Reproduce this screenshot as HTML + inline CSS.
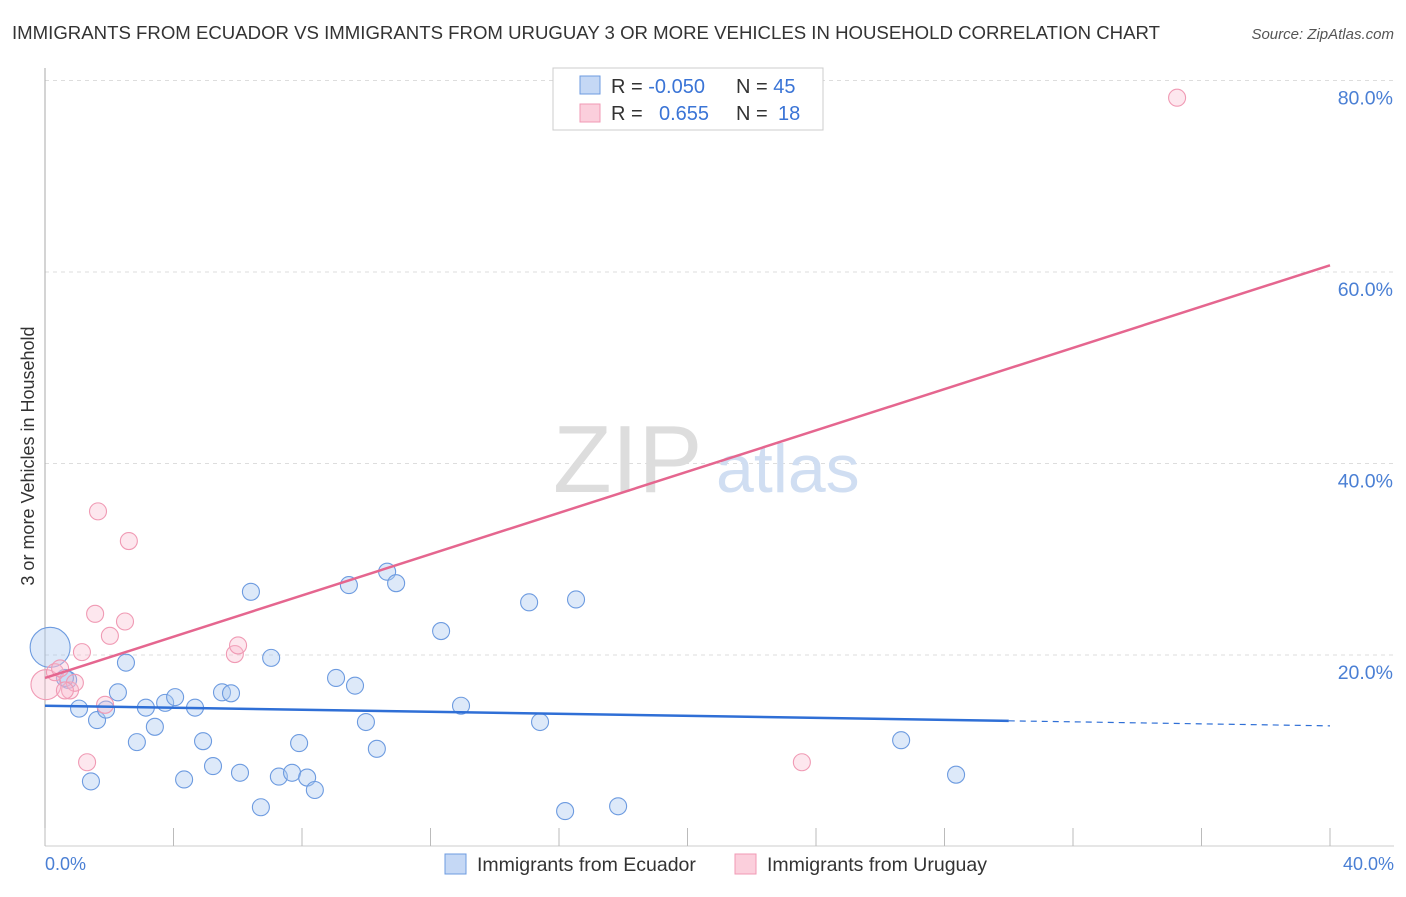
<!DOCTYPE html>
<html><head><meta charset="utf-8"><style>
body{margin:0;background:#fff;font-family:"Liberation Sans",sans-serif}
svg text{font-family:"Liberation Sans",sans-serif}
</style></head><body>
<svg width="1406" height="892">
<text x="12" y="39" font-size="18" fill="#333" textLength="1148" lengthAdjust="spacingAndGlyphs">IMMIGRANTS FROM ECUADOR VS IMMIGRANTS FROM URUGUAY 3 OR MORE VEHICLES IN HOUSEHOLD CORRELATION CHART</text>
<text x="1394" y="39" font-size="15" fill="#555" font-style="italic" text-anchor="end">Source: ZipAtlas.com</text>
<g id="grid"></g>
<text x="553" y="492" font-size="96" fill="#ddd" font-family="Liberation Serif">ZIP</text>
<text x="716" y="492" font-size="68" fill="#d0def2">atlas</text>
<line x1="45" y1="68" x2="45" y2="846" stroke="#aaa"/>
<line x1="45" y1="846" x2="1394" y2="846" stroke="#ccc"/>
<g id="xt"></g>
<text x="34" y="456" font-size="18" fill="#333" text-anchor="middle" transform="rotate(-90 34 456)">3 or more Vehicles in Household</text>
<text x="45" y="870" font-size="18" fill="#4a7fd4">0.0%</text>
<text x="1394" y="870" font-size="18" fill="#4a7fd4" text-anchor="end">40.0%</text>
<g id="pts"></g>
<g id="lines"></g>
<g>
<rect x="553" y="68" width="270" height="62" fill="#fff" stroke="#ccc"/>
<rect x="580" y="76" width="20" height="18" fill="#c5d8f5" stroke="#6d9be0"/>
<rect x="580" y="104" width="20" height="18" fill="#fbcfdc" stroke="#f09ab4"/>
<text x="611" y="93" font-size="20" fill="#333">R = <tspan fill="#3a74d6">-0.050</tspan></text>
<text x="736" y="93" font-size="20" fill="#333">N = <tspan fill="#3a74d6">45</tspan></text>
<text x="611" y="120" font-size="20" fill="#333">R = <tspan fill="#3a74d6" x="659">0.655</tspan></text>
<text x="736" y="120" font-size="20" fill="#333">N = <tspan fill="#3a74d6" x="778">18</tspan></text>
</g>
<g><rect x="445" y="854" width="21" height="20" fill="#c5d8f5" stroke="#6d9be0"/><text x="477" y="871" font-size="19.5" fill="#333">Immigrants from Ecuador</text></g>
<g><rect x="735" y="854" width="21" height="20" fill="#fbcfdc" stroke="#f09ab4"/><text x="767" y="871" font-size="19.5" fill="#333">Immigrants from Uruguay</text></g>
</svg>
<script>
const yTicks=[20,40,60,80];
const xTicks=[0,4,8,12,16,20,24,28,32,36,40];
const blueX=[0.16,0.72,1.06,1.62,1.9,2.27,2.52,2.86,3.14,3.42,3.74,4.05,4.33,4.67,4.92,5.23,5.51,5.79,6.07,6.41,6.72,7.04,7.28,7.69,7.91,8.16,8.4,9.06,9.46,9.65,9.99,10.33,10.65,10.93,12.33,12.95,15.07,15.41,16.19,16.53,17.84,26.65,28.36,1.43,0.62];
const blueY=[20.8,17.4,14.4,13.2,14.3,16.1,19.2,10.9,14.5,12.5,15.0,15.6,7.0,14.5,11.0,8.4,16.1,16.0,7.7,26.6,4.1,19.7,7.3,7.7,10.8,7.2,5.9,17.6,27.3,16.8,13.0,10.2,28.7,27.5,22.5,14.7,25.5,13.0,3.7,25.8,4.2,11.1,7.5,6.8,17.6];
const blueR=[20];
const pinkX=[0.03,0.31,0.47,0.78,1.15,1.31,1.56,1.65,2.02,1.87,2.49,2.61,5.91,6.01,23.56,35.24,0.93,0.62];
const pinkY=[16.9,18.2,18.6,16.3,20.3,8.8,24.3,35.0,22.0,14.8,23.5,31.9,20.1,21.0,8.8,78.2,17.1,16.3];
const pinkR=[15];
const blueTrend=[14.7,12.6];
const pinkTrend=[17.6,60.7];
const NS='http://www.w3.org/2000/svg';
const sx=v=>45+v*32.125, sy=v=>846.5-v*9.575;
function mk(t,a,p){const e=document.createElementNS(NS,t);for(const k in a)e.setAttribute(k,a[k]);document.getElementById(p).appendChild(e);return e;}
yTicks.forEach(t=>{
const l=mk('line',{x1:45,x2:1394,y1:sy(t),y2:sy(t),stroke:'#ddd','stroke-dasharray':'4,4'},'grid');


const tx=mk('text',{x:1393,y:sy(t)+24,'font-size':19.5,fill:'#4a7fd4','text-anchor':'end'},'grid');
tx.textContent=t.toFixed(1)+'%';


});
xTicks.forEach(t=>{
const l=mk('line',{x1:sx(t),x2:sx(t),y1:828,y2:846,stroke:'#bbb'},'xt');


});
blueX.forEach((v,i)=>{
const c=mk('circle',{cx:sx(v),cy:sy(blueY[i]),r:blueR[i]||8.5,fill:'rgba(170,200,240,0.4)',stroke:'#6d9be0','stroke-width':1.1},'pts');


});
pinkX.forEach((v,i)=>{
const c=mk('circle',{cx:sx(v),cy:sy(pinkY[i]),r:pinkR[i]||8.5,fill:'rgba(248,185,205,0.35)',stroke:'#f09ab4','stroke-width':1.1},'pts');


});
const bAt=x=>blueTrend[0]+(blueTrend[1]-blueTrend[0])*x/40;
let l1=mk('line',{x1:sx(0),y1:sy(bAt(0)),x2:sx(30),y2:sy(bAt(30)),stroke:'#2f6fd6','stroke-width':2.5},'lines');


let l2=mk('line',{x1:sx(30),y1:sy(bAt(30)),x2:sx(40),y2:sy(bAt(40)),stroke:'#2f6fd6','stroke-width':1.2,'stroke-dasharray':'6,5'},'lines');


let l3=mk('line',{x1:sx(0),y1:sy(pinkTrend[0]),x2:sx(40),y2:sy(pinkTrend[1]),stroke:'#e5668f','stroke-width':2.5},'lines');


</script>
</body></html>
